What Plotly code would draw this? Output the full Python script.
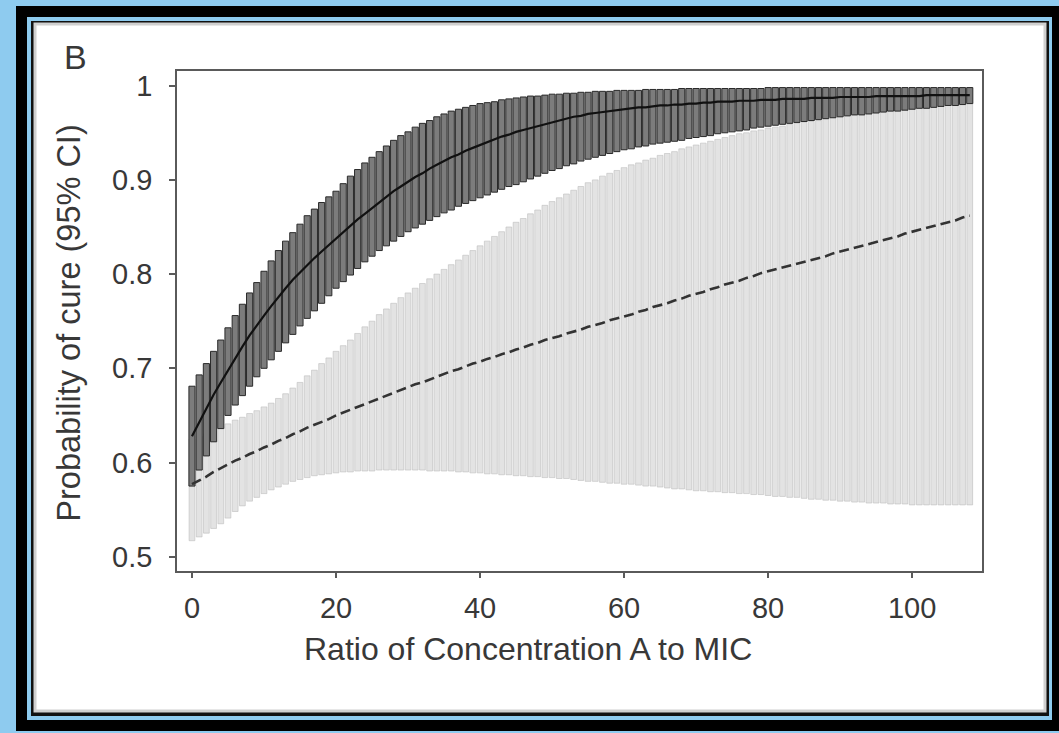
import plotly.graph_objects as go

# x: ratio of concentration A to MIC
ratio = list(range(0, 109))

# Solid series (dark boxes): mean and 95% CI
mean_solid = [
    .628, .643, .658, .672, .685, .698, .711, .723, .735, .746,
    .756, .766, .776, .785, .794, .802, .810, .817, .824, .831,
    .838, .845, .851, .858, .864, .870, .876, .882, .888, .893,
    .898, .903, .907, .912, .916, .920, .924, .927, .931, .934,
    .937, .940, .943, .946, .948, .951, .953, .955, .957, .959,
    .961, .963, .965, .967, .968, .970, .971, .972, .973, .974,
    .975, .976, .977, .977, .978, .979, .979, .980, .980, .981,
    .981, .982, .982, .983, .983, .983, .984, .984, .984, .985,
    .985, .985, .986, .986, .986, .986, .987, .987, .987, .987,
    .988, .988, .988, .988, .988, .989, .989, .989, .989, .989,
    .989, .989, .990, .990, .990, .990, .990, .990, .990]
upper_solid = [
    .681, .693, .705, .718, .730, .743, .756, .768, .780, .791,
    .803, .814, .825, .835, .844, .853, .862, .869, .876, .882,
    .888, .896, .904, .911, .918, .924, .930, .936, .942, .947,
    .951, .956, .960, .963, .967, .970, .973, .975, .977, .979,
    .981, .982, .983, .985, .986, .987, .988, .989, .989, .990,
    .991, .991, .992, .992, .993, .993, .994, .994, .994, .995,
    .995, .995, .995, .996, .996, .996, .996, .996, .997, .997,
    .997, .997, .997, .997, .997, .997, .997, .997, .997, .997,
    .998, .998, .998, .998, .998, .998, .998, .998, .998, .998,
    .998, .998, .998, .998, .998, .998, .998, .998, .998, .998,
    .998, .998, .998, .998, .998, .998, .998, .998, .998]
lower_solid = [
    .575, .592, .607, .622, .636, .650, .661, .671, .681, .691,
    .700, .709, .718, .727, .736, .745, .753, .761, .769, .777,
    .785, .792, .799, .806, .813, .819, .825, .830, .835, .840,
    .845, .849, .853, .857, .861, .865, .868, .872, .875, .878,
    .881, .884, .887, .890, .893, .895, .898, .901, .904, .907,
    .910, .912, .915, .917, .920, .922, .924, .926, .928, .930,
    .932, .933, .935, .936, .938, .939, .940, .941, .942, .944,
    .945, .946, .947, .949, .950, .951, .952, .953, .955, .956,
    .957, .958, .959, .960, .961, .962, .963, .964, .965, .966,
    .967, .968, .969, .969, .970, .971, .972, .973, .973, .974,
    .975, .976, .976, .977, .978, .979, .979, .980, .981]

# Dashed series (light dotted boxes): mean and 95% CI
mean_dashed = [
    .577, .581, .585, .590, .594, .598, .602, .605, .609, .612,
    .616, .619, .623, .626, .630, .633, .637, .640, .643, .646,
    .650, .653, .656, .659, .662, .665, .668, .671, .674, .677,
    .680, .683, .685, .688, .691, .694, .697, .699, .702, .705,
    .707, .710, .712, .715, .717, .720, .722, .725, .727, .730,
    .732, .734, .737, .739, .741, .744, .746, .748, .751, .753,
    .755, .757, .760, .762, .765, .767, .769, .772, .774, .777,
    .779, .781, .784, .786, .789, .791, .793, .796, .798, .801,
    .803, .805, .807, .809, .811, .813, .815, .817, .819, .822,
    .824, .826, .828, .830, .832, .834, .836, .838, .840, .843,
    .845, .847, .849, .851, .853, .855, .857, .860, .862]
upper_dashed = [
    .625, .628, .630, .633, .637, .641, .645, .648, .652, .655,
    .659, .663, .668, .673, .679, .685, .692, .698, .705, .711,
    .718, .724, .730, .737, .744, .750, .757, .763, .769, .775,
    .780, .785, .790, .795, .800, .805, .810, .815, .820, .825,
    .830, .835, .840, .845, .850, .855, .859, .864, .868, .873,
    .877, .881, .885, .889, .893, .897, .900, .904, .907, .910,
    .913, .916, .918, .921, .923, .926, .928, .930, .933, .935,
    .937, .939, .941, .943, .945, .947, .949, .950, .952, .953,
    .955, .956, .957, .959, .960, .961, .962, .963, .965, .966,
    .967, .968, .969, .970, .971, .972, .973, .973, .974, .975,
    .976, .977, .977, .978, .979, .979, .980, .980, .981]
lower_dashed = [
    .517, .521, .525, .530, .535, .541, .548, .554, .559, .563,
    .567, .571, .574, .577, .580, .582, .584, .586, .587, .588,
    .589, .590, .590, .591, .591, .591, .592, .592, .592, .592,
    .592, .592, .592, .591, .591, .591, .591, .590, .590, .589,
    .589, .588, .588, .587, .587, .586, .586, .585, .585, .584,
    .584, .583, .583, .582, .581, .580, .580, .579, .578, .578,
    .577, .577, .576, .575, .575, .574, .573, .572, .572, .571,
    .570, .570, .569, .569, .568, .568, .567, .567, .566, .566,
    .565, .564, .564, .563, .563, .562, .561, .561, .560, .560,
    .559, .559, .558, .558, .557, .557, .557, .556, .556, .556,
    .555, .555, .555, .555, .555, .555, .555, .555, .555]

x_ticks = [0, 20, 40, 60, 80, 100]
y_ticks = [0.5, 0.6, 0.7, 0.8, 0.9, 1.0]
y_tick_text = ["0.5", "0.6", "0.7", "0.8", "0.9", "1"]

W, H = 1059, 733
TXT = "#383838"
FONT = "Liberation Sans, Arial, sans-serif"

fig = go.Figure()

# light dotted CI boxes
fig.add_trace(go.Bar(
    x=ratio, base=lower_dashed,
    y=[h - l for h, l in zip(upper_dashed, lower_dashed)],
    width=0.8, marker=dict(color="#e3e3e3", line=dict(color="#bdbdbd", width=0.6)),
    showlegend=False, hoverinfo="skip"))

# dashed mean line
fig.add_trace(go.Scatter(
    x=ratio, y=mean_dashed, mode="lines",
    line=dict(color="#333333", width=2.6, dash="10px,5px"), showlegend=False))

# dark CI boxes
fig.add_trace(go.Bar(
    x=ratio, base=lower_solid,
    y=[h - l for h, l in zip(upper_solid, lower_solid)],
    width=0.85, marker=dict(color="#7c7c7c", line=dict(color="#2a2a2a", width=1)),
    showlegend=False, hoverinfo="skip"))

# solid mean line
fig.add_trace(go.Scatter(
    x=ratio, y=mean_solid, mode="lines",
    line=dict(color="#111111", width=2.2), showlegend=False))

def px(x):
    return x / W

def py(y):
    return 1 - y / H

shapes = [
    dict(type="rect", xref="paper", yref="paper", x0=px(16), x1=px(1059), y0=py(733), y1=py(5),
         fillcolor="#000000", line=dict(width=0), layer="below"),
    dict(type="rect", xref="paper", yref="paper", x0=px(27), x1=px(1052), y0=py(722), y1=py(16),
         fillcolor="#8ecbef", line=dict(width=0), layer="below"),
    dict(type="rect", xref="paper", yref="paper", x0=px(31), x1=px(1049), y0=py(718), y1=py(20),
         fillcolor="#111111", line=dict(width=0), layer="below"),
    dict(type="rect", xref="paper", yref="paper", x0=px(35), x1=px(1045), y0=py(713), y1=py(23),
         fillcolor="#ffffff", line=dict(color="#d0d0d0", width=3), layer="below"),
]

annotations = [
    dict(text="B", x=px(75), y=py(56), xref="paper", yref="paper", showarrow=False,
         font=dict(size=34, color=TXT, family=FONT), xanchor="center", yanchor="middle"),
    dict(text="Probability of cure (95% CI)", x=px(69), y=py(324), xref="paper", yref="paper",
         showarrow=False, textangle=-90, font=dict(size=32.5, color=TXT, family=FONT),
         xanchor="center", yanchor="middle"),
    dict(text="Ratio of Concentration A to MIC", x=px(528), y=py(651), xref="paper", yref="paper",
         showarrow=False, font=dict(size=32, color=TXT, family=FONT),
         xanchor="center", yanchor="middle"),
]

axis_common = dict(showgrid=False, zeroline=False, showline=True, mirror=True,
                   linecolor="#5a5a5a", linewidth=1.6, ticks="outside", ticklen=6,
                   tickwidth=1.5, tickcolor="#5a5a5a",
                   tickfont=dict(size=29, color=TXT, family=FONT))

fig.update_layout(
    width=W, height=H, margin=dict(l=0, r=0, t=0, b=0),
    paper_bgcolor="#8ecbef", plot_bgcolor="#ffffff",
    barmode="overlay", showlegend=False,
    shapes=shapes, annotations=annotations,
    xaxis=dict(domain=[px(177), px(982)], range=[-2.08, 109.7],
               tickvals=x_ticks, ticktext=[str(v) for v in x_ticks],
               ticklabelstandoff=5, **axis_common),
    yaxis=dict(domain=[py(572), py(70)], range=[0.4852, 1.0159],
               tickvals=y_ticks, ticktext=y_tick_text,
               ticklabelstandoff=11, **axis_common),
)

fig.write_html("out.html")
